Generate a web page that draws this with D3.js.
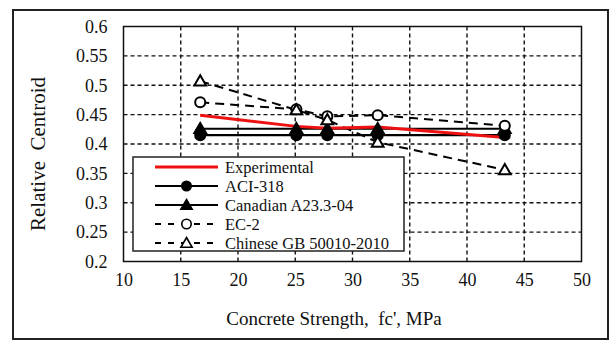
<!DOCTYPE html>
<html>
<head>
<meta charset="utf-8">
<script src="https://cdn.jsdelivr.net/npm/d3@7"></script>
<style>
  body { margin: 0; background: #fff; }
  svg { display: block; }
  text { font-family: "Liberation Serif", "Times New Roman", serif; fill: #111; }
</style>
</head>
<body>
<svg id="chart"></svg>
<script>
// data
const strength = [16.7, 25.1, 27.8, 32.2, 43.3];
const experimental = [0.449, 0.430, 0.427, 0.429, 0.411];
const aci318 = [0.415, 0.415, 0.415, 0.415, 0.415];
const canadian = [0.426, 0.426, 0.426, 0.426, 0.426];
const ec2 = [0.471, 0.459, 0.447, 0.449, 0.431];
const chinese = [0.507, 0.458, 0.441, 0.403, 0.356];
const xTicks = [10, 15, 20, 25, 30, 35, 40, 45, 50];
const yTicks = [0.2, 0.25, 0.3, 0.35, 0.4, 0.45, 0.5, 0.55, 0.6];
const seriesNames = ["Experimental", "ACI-318", "Canadian A23.3-04", "EC-2", "Chinese GB 50010-2010"];

const width = 610, height = 340;
const serif = '"Liberation Serif", "Times New Roman", serif';
const svg = d3.select("#chart").attr("width", width).attr("height", height);

const x = d3.scaleLinear().domain([10, 50]).range([123.5, 581.5]);
const y = d3.scaleLinear().domain([0.2, 0.6]).range([261.5, 26.5]);

// outer frame
svg.append("rect")
    .attr("x", 13).attr("y", 10)
    .attr("width", 595).attr("height", 329)
    .attr("fill", "none")
    .attr("stroke", "#222")
    .attr("stroke-width", 2);

// grid
const grid = svg.append("g")
    .attr("stroke", "#111")
    .attr("stroke-width", 1.4)
    .attr("stroke-dasharray", "4,3");
grid.selectAll("line.v")
    .data(xTicks.slice(1, -1))
    .enter().append("line")
    .attr("x1", d => x(d)).attr("x2", d => x(d))
    .attr("y1", y(0.6)).attr("y2", y(0.2));
grid.selectAll("line.h")
    .data(yTicks.slice(1, -1))
    .enter().append("line")
    .attr("x1", x(10)).attr("x2", x(50))
    .attr("y1", d => y(d)).attr("y2", d => y(d));

// axes (labels only, ticks hidden)
const xAxis = svg.append("g")
    .attr("transform", `translate(0,${y(0.2)})`)
    .call(d3.axisBottom(x).tickValues(xTicks).tickSize(0).tickPadding(12).tickFormat(d3.format("d")));
const yAxis = svg.append("g")
    .attr("transform", `translate(${x(10)},0)`)
    .call(d3.axisLeft(y).tickValues(yTicks).tickSize(0).tickPadding(16).tickFormat(d => String(+d.toFixed(2))));
[xAxis, yAxis].forEach(a => {
    a.attr("font-family", serif).attr("font-size", 18);
    a.select(".domain").remove();
    a.selectAll("text").attr("fill", "#222").style("font-family", serif);
});

// plot border
svg.append("rect")
    .attr("x", x(10)).attr("y", y(0.6))
    .attr("width", x(50) - x(10)).attr("height", y(0.2) - y(0.6))
    .attr("fill", "none")
    .attr("stroke", "#111")
    .attr("stroke-width", 1.5);

// axis titles
svg.append("text")
    .attr("x", 334).attr("y", 325)
    .attr("text-anchor", "middle")
    .attr("font-size", 19)
    .attr("fill", "#2a1a10")
    .attr("xml:space", "preserve")
    .text("Concrete Strength,  fc', MPa");
svg.append("text")
    .attr("transform", "translate(45,154) rotate(-90)")
    .attr("text-anchor", "middle")
    .attr("font-size", 21)
    .attr("fill", "#2a1a10")
    .attr("xml:space", "preserve")
    .text("Relative  Centroid");

const line = d3.line()
    .x((d, i) => x(strength[i]))
    .y(d => y(d));

const series = [
    { name: seriesNames[1], values: aci318, color: "#000", width: 2.2, dash: null, marker: "circle", fill: "#000" },
    { name: seriesNames[2], values: canadian, color: "#000", width: 2.2, dash: null, marker: "triangle", fill: "#000" },
    { name: seriesNames[3], values: ec2, color: "#000", width: 2, dash: "9,6", marker: "circle", fill: "#fff" },
    { name: seriesNames[4], values: chinese, color: "#000", width: 2, dash: "9,6", marker: "triangle", fill: "#fff" },
    { name: seriesNames[0], values: experimental, color: "#ee1111", width: 3, dash: null, marker: null, fill: null }
];

const symbolPath = function(kind, size) {
    return d3.symbol().type(kind === "circle" ? d3.symbolCircle : d3.symbolTriangle).size(size)();
};

const lines = svg.append("g").attr("fill", "none");
series.forEach(s => {
    lines.append("path")
        .attr("d", line(s.values))
        .attr("stroke", s.color)
        .attr("stroke-width", s.width)
        .attr("stroke-dasharray", s.dash);
});

const markers = svg.append("g");
series.filter(s => s.marker).forEach(s => {
    markers.selectAll(null)
        .data(s.values)
        .enter().append("path")
        .attr("transform", (d, i) => `translate(${x(strength[i])},${y(d) + (s.marker === "triangle" ? 1 : 0)})`)
        .attr("d", symbolPath(s.marker, s.marker === "circle" ? 80 : 60))
        .attr("fill", s.fill)
        .attr("stroke", "#000")
        .attr("stroke-width", 2);
});

// legend
const legend = svg.append("g");
legend.append("rect")
    .attr("x", 133).attr("y", 157)
    .attr("width", 271).attr("height", 94)
    .attr("fill", "#fff")
    .attr("stroke", "#222")
    .attr("stroke-width", 1.5);

const legendOrder = [series[4], series[0], series[1], series[2], series[3]];
legendOrder.forEach((s, i) => {
    const ly = 167 + i * 19;
    legend.append("line")
        .attr("x1", 155).attr("x2", 218)
        .attr("y1", ly).attr("y2", ly)
        .attr("stroke", s.color)
        .attr("stroke-width", s.width)
        .attr("stroke-dasharray", s.dash ? "6,7" : null);
    if (s.marker) {
        legend.append("path")
            .attr("transform", `translate(186.5,${ly + (s.marker === "triangle" ? 1 : 0)})`)
            .attr("d", symbolPath(s.marker, s.marker === "circle" ? 70 : 55))
            .attr("fill", s.fill)
            .attr("stroke", "#000")
            .attr("stroke-width", 1.6);
    }
    legend.append("text")
        .attr("x", 225).attr("y", ly)
        .attr("dy", "0.35em")
        .attr("font-size", 16.5)
        .text(s.name);
});
</script>
</body>
</html>
